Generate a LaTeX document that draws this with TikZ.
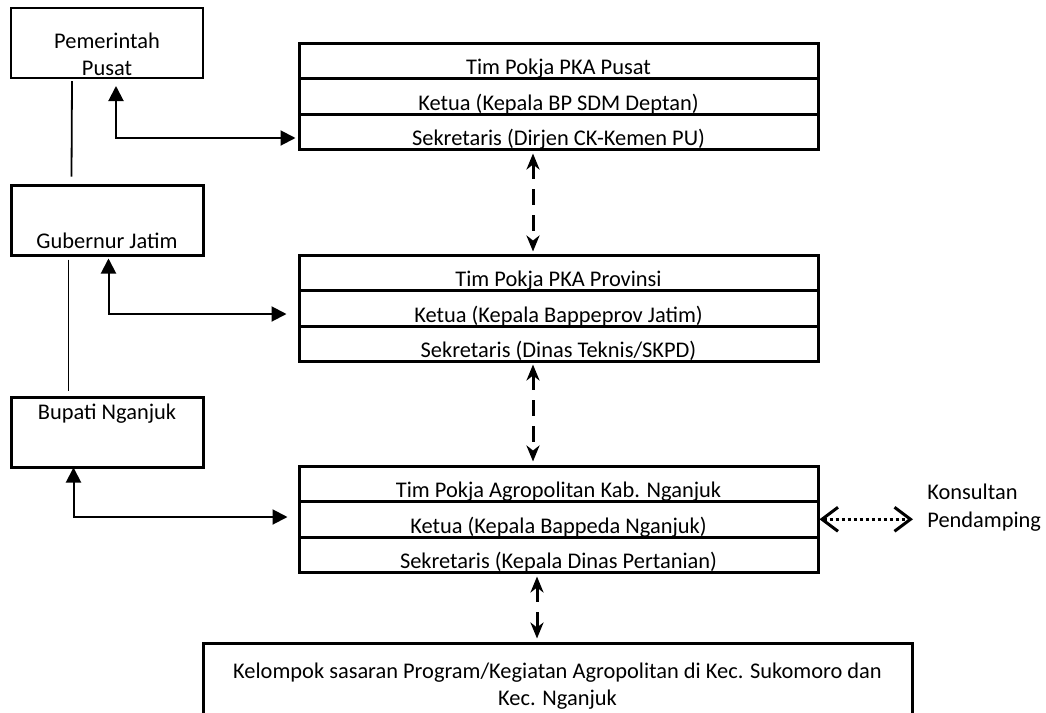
\documentclass[tikz,border=0pt]{standalone}
\usepackage{fontspec}
\setmainfont{Carlito}
\usetikzlibrary{arrows.meta,calc}
\begin{document}
\begin{tikzpicture}[x=0.5pt,y=-0.5pt,
  every node/.style={font=\fontsize{11.2pt}{13.5pt}\selectfont, inner sep=0pt},
  rowbox/.style={draw, line width=1.5pt, minimum width=259.5pt, minimum height=17.75pt, text height=15pt, text depth=1pt},
  leftbox/.style={draw, line width=1.5pt, minimum width=96pt, minimum height=35pt},
  plainline/.style={line width=0.9pt},
  biarr/.style={line width=1pt, {Triangle[length=7.5pt,width=7.5pt]}-{Triangle[length=7.5pt,width=7.5pt]}},
  dasharr/.style={line width=1.5pt, dash pattern=on 8pt off 5pt, {Stealth[length=8pt,width=6.5pt,inset=2.5pt]}-{Stealth[length=8pt,width=6.5pt,inset=2.5pt]}},
  dotarr/.style={line width=1.5pt, dash pattern=on 1.5pt off 1.5pt, {Straight Barb[length=8pt,width=12pt]}-{Straight Barb[length=8pt,width=12pt]}}
]
\path[use as bounding box, clip] (0,0) rectangle (1046,713);

% left column
\node[leftbox, line width=1pt] (pem) at (107,43) {};
\node[align=center] (pemtext) at (107,54) {Pemerintah\\Pusat};
\node[leftbox, text height=29.5pt, text depth=1pt] (gub) at (107,220) {Gubernur Jatim};
\node[leftbox, text height=7pt, text depth=20pt] (bup) at (107,432) {Bupati Nganjuk};

% Pusat
\node[rowbox] (pusat1) at (558.5,60.75) {Tim Pokja PKA Pusat};
\node[rowbox] (pusat2) at (558.5,96.25) {Ketua (Kepala BP SDM Deptan)};
\node[rowbox] (pusat3) at (558.5,131.75) {Sekretaris (Dirjen CK-Kemen PU)};
% Provinsi
\node[rowbox] (prov1) at (558.5,272.75) {Tim Pokja PKA Provinsi};
\node[rowbox] (prov2) at (558.5,308.25) {Ketua (Kepala Bappeprov Jatim)};
\node[rowbox] (prov3) at (558.5,343.75) {Sekretaris (Dinas Teknis/SKPD)};
% Agropolitan
\node[rowbox] (agro1) at (558.5,483.75) {Tim Pokja Agropolitan Kab. Nganjuk};
\node[rowbox] (agro2) at (558.5,519.25) {Ketua (Kepala Bappeda Nganjuk)};
\node[rowbox] (agro3) at (558.5,554.75) {Sekretaris (Kepala Dinas Pertanian)};

% consultant
\node[align=left, anchor=west, font=\fontsize{11.2pt}{14pt}\selectfont] (kons) at (927,507.5) {Konsultan\\Pendamping};

% bottom box
\node[draw, line width=1.5pt, minimum width=354.5pt, minimum height=43pt, align=center] (kel) at (557.5,686)
  {Kelompok sasaran Program/Kegiatan Agropolitan di Kec. Sukomoro dan\\Kec. Nganjuk};

% left vertical lines
\draw[plainline] ($(pem.south west)+(62,2)$) -- ($(gub.north west)+(62,-7)$);
\draw[plainline] ($(gub.south west)+(59,3)$) -- ($(bup.north west)+(59,-5)$);

% left arrows
\draw[biarr] ($(pem.south west)+(106,7)$) |- ($(pusat3.west)+(-2,6.25)$);
\draw[biarr] ($(gub.south west)+(99,2)$) |- ($(prov2.west)+(-11,5.75)$);
\draw[biarr] ($(bup.south west)+(64,-1)$) |- ($(agro2.west)+(-10,-2.25)$);

% dashed arrows
\draw[dasharr] ($(pusat3.south)+(-25.5,2.5)$) -- ($(prov1.north)+(-25.5,-2)$);
\draw[dasharr] ($(prov3.south)+(-25.5,1.5)$) -- ($(agro1.north)+(-25.5,-3)$);
\draw[dasharr] ($(agro3.south)+(-21.5,2.5)$) -- ($(kel.north)+(-20.5,-3)$);

% dotted arrow
\draw[dotarr] (agro2.east) -- ($(agro2.east -| kons.west)+(-14,0)$);
\end{tikzpicture}
\end{document}
